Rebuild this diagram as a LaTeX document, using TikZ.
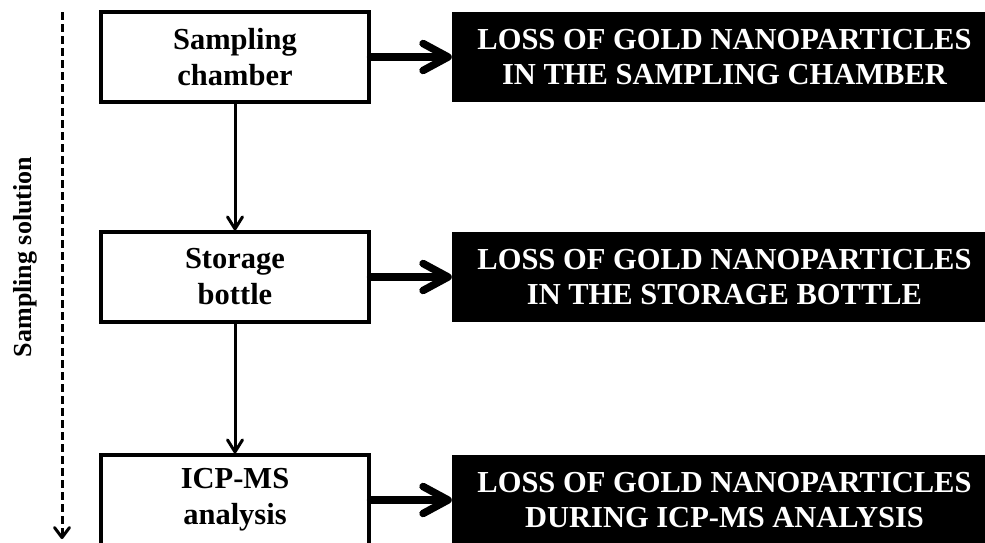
\documentclass[tikz,border=0pt]{standalone}
\usepackage{fontspec}
\setmainfont{Liberation Serif}
\usetikzlibrary{arrows.meta}

\begin{document}
\begin{tikzpicture}[x=1pt,y=-1pt,
  stagebox/.style={draw,line width=3.2pt,minimum width=268pt,minimum height=90pt,
    align=center,font=\fontsize{30.5}{36}\selectfont\bfseries,inner sep=0pt},
  lossbox/.style={fill=black,text=white,minimum width=545pt,minimum height=90pt,
    align=center,font=\fontsize{30.5}{35}\selectfont\bfseries,inner sep=0pt},
  flow/.style={line width=3pt,-{Straight Barb[length=12pt,width=15pt,round]}},
  lossarrow/.style={line width=7.5pt,line cap=round,-{Straight Barb[length=25pt,width=27pt,round]}}]
\useasboundingbox (0,0) rectangle (985,542);

% stages of the sampling solution
\node[stagebox] (chamber) at (235,57) {Sampling\\chamber};
\node[stagebox] (bottle) at (235,277) {Storage\\bottle};
\node[stagebox] (icpms) at (235,500) {ICP-MS\\analysis};

% losses
\node[lossbox] (losschamber) at (724.5,57) {LOSS OF GOLD NANOPARTICLES\\IN THE SAMPLING CHAMBER};
\node[lossbox] (lossbottle) at (724.5,277) {LOSS OF GOLD NANOPARTICLES\\IN THE STORAGE BOTTLE};
\node[lossbox] (lossicpms) at (724.5,500) {LOSS OF GOLD NANOPARTICLES\\DURING ICP-MS ANALYSIS};

\draw[flow] (chamber.south) -- (bottle.north);
\draw[flow] (bottle.south) -- (icpms.north);

\draw[lossarrow] (chamber.east) -- (losschamber.west);
\draw[lossarrow] (bottle.east) -- (lossbottle.west);
\draw[lossarrow] (icpms.east) -- (lossicpms.west);

% direction of the solution
\coordinate (solstart) at (62,12);
\coordinate (solend) at (62,539);
\draw[line width=3pt,dash pattern=on 8pt off 4pt,
  -{Straight Barb[length=10pt,width=15pt,round]}] (solstart) -- (solend);
\node[rotate=90,font=\fontsize{26}{30}\selectfont\bfseries] (sollabel) at (25,257) {Sampling solution};
\end{tikzpicture}
\end{document}
